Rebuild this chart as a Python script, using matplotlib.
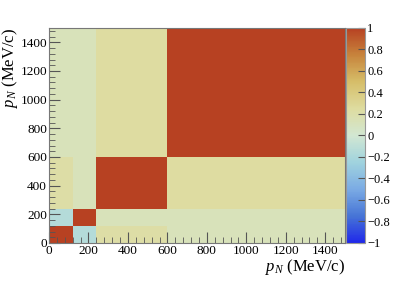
import numpy as np
import matplotlib
matplotlib.use("Agg")
import matplotlib.pyplot as plt
from matplotlib.colors import LinearSegmentedColormap
from matplotlib.ticker import MultipleLocator

# bin edges in p_N (MeV/c)
edges = [0, 120, 240, 600, 1500]

# correlation matrix between the bins
corr = [
    [1.00, -0.15, 0.22, 0.12],
    [-0.15, 1.00, 0.12, 0.12],
    [0.22, 0.12, 1.00, 0.24],
    [0.12, 0.12, 0.24, 1.00],
]

cbar_ticks = [-1, -0.8, -0.6, -0.4, -0.2, 0, 0.2, 0.4, 0.6, 0.8, 1]

# ROOT kLightTemperature palette
red = [31, 71, 123, 160, 210, 222, 214, 199, 183]
green = [40, 117, 171, 211, 231, 220, 190, 132, 65]
blue = [234, 214, 228, 222, 210, 160, 105, 60, 34]
cols = [(r / 255, g / 255, b / 255) for r, g, b in zip(red, green, blue)]
cmap = LinearSegmentedColormap.from_list("lighttemp", cols, N=255)

plt.rcParams['mathtext.fontset'] = 'custom'
plt.rcParams['mathtext.rm'] = 'Liberation Serif'
plt.rcParams['mathtext.it'] = 'Liberation Serif:italic'
plt.rcParams['font.family'] = ['Liberation Serif', 'DejaVu Serif']
plt.rcParams['axes.unicode_minus'] = True

fig = plt.figure(figsize=(4.07, 2.85), dpi=100)
ax = fig.add_axes([0.1204, 0.1474, 0.7273, 0.7544])
cax = fig.add_axes([0.8502, 0.1474, 0.0467, 0.7544])

e = np.array(edges)
mesh = ax.pcolormesh(e, e, np.array(corr), cmap=cmap, vmin=-1, vmax=1)

ax.set_xlim(0, 1500)
ax.set_ylim(0, 1500)
for a in (ax.xaxis, ax.yaxis):
    a.set_major_locator(MultipleLocator(200))
    a.set_minor_locator(MultipleLocator(40))
ax.tick_params(which='both', direction='in', top=False, right=False,
               color='#555555', labelsize=9.5, pad=1.5)
ax.tick_params(which='major', length=8)
ax.tick_params(which='minor', length=4)
for s in ax.spines.values():
    s.set_color('#777777')

ax.set_xlabel('$p_{N}$ (MeV/c)', fontsize=12, loc='right', labelpad=0)
ax.set_ylabel('$p_{N}$ (MeV/c)', fontsize=12, loc='top', labelpad=0)

cb = fig.colorbar(mesh, cax=cax, ticks=cbar_ticks)
cb.ax.tick_params(direction='in', length=5, labelsize=9, color='#555555', pad=1.5)
cb.outline.set_edgecolor('#999999')
cb.ax.set_yticklabels(['\u22121', '\u22120.8', '\u22120.6', '\u22120.4', '\u22120.2',
                       '0', '0.2', '0.4', '0.6', '0.8', '1'])

fig.savefig('out.png', dpi=100)
